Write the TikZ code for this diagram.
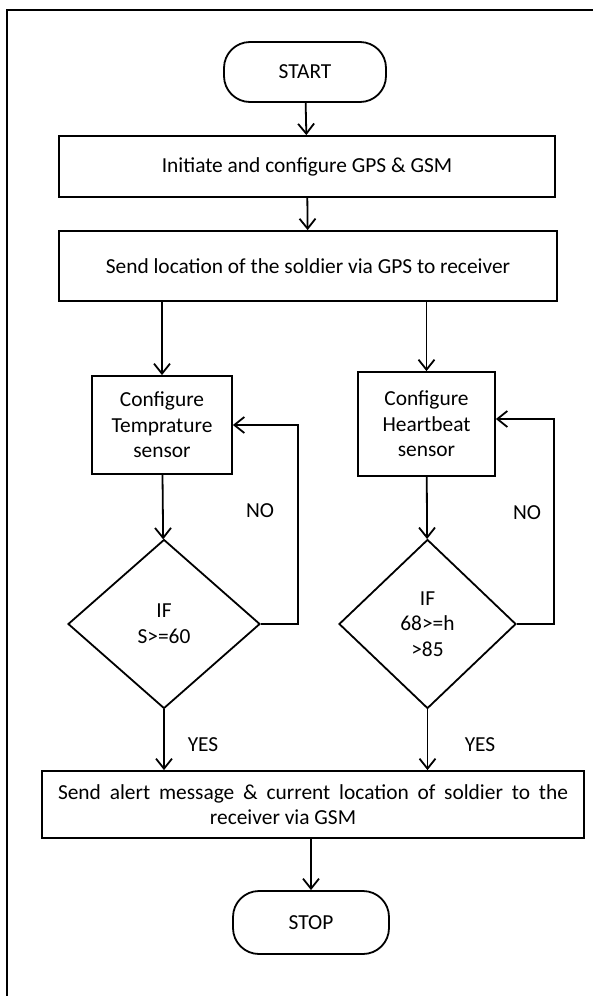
\documentclass[tikz,border=0pt]{standalone}
\usepackage{fontspec}
\setmainfont{Carlito}
\usetikzlibrary{shapes.geometric,arrows.meta}

\begin{document}
\begin{tikzpicture}[x=0.5pt, y=-0.5pt,
    every node/.style = {font=\fontsize{10.7}{12.8}\selectfont},
    terminal/.style = {rectangle, rounded corners=13pt, draw = black, line width=0.9pt, inner sep=0pt},
    process/.style = {rectangle, draw = black, line width=0.9pt, inner sep=0pt, align=center},
    decision/.style = {diamond, draw = black, line width=0.9pt, inner sep=0pt, align=center},
    flow/.style = {line width=0.9pt, -{Straight Barb[length=5pt,width=8pt]}}]

    \useasboundingbox (0,0) rectangle (593,996);

    \coordinate (fbot) at (7,996);
    \coordinate (fcorner) at (7,10);
    \coordinate (fright) at (593,10);
    \draw[line width=1.1pt] (fbot) -- (fcorner) -- (fright);


    \node[terminal,
    minimum width = 81pt,
    minimum height = 30pt] (start) at (305,72) {START};

    \node[process,
    minimum width = 248pt,
    minimum height = 30.5pt] (init) at (307,166.5) {Initiate and configure GPS \& GSM};

    \node[process,
    minimum width = 249pt,
    minimum height = 35pt] (send) at (308,266) {Send location of the soldier via GPS to receiver};

    \node[process,
    minimum width = 70pt,
    minimum height = 49pt] (temp) at (162,425) {Configure\\Temprature\\sensor};

    \node[process,
    minimum width = 68.5pt,
    minimum height = 52pt] (heart) at (426.5,424) {Configure\\Heartbeat\\sensor};

    \node[decision,
    minimum width = 96pt,
    minimum height = 84.5pt] (ifT) at (164,624) {IF\\S>=60};

    \node[decision,
    minimum width = 88.5pt,
    minimum height = 84.5pt] (ifH) at (427.5,624) {IF\\68>=h\\>85};

    \node[process,
    minimum width = 271pt,
    minimum height = 33.5pt] (alert) at (313,804.5)
    {\makebox[255pt][s]{Send alert message \& current location of soldier to the}\\
     \makebox[255pt]{receiver via GSM\hspace*{30pt}}};

    \node[terminal,
    minimum width = 78pt,
    minimum height = 31.5pt] (stop) at (311,922.5) {STOP};


    \node[] (noT) at (260,511) {NO};
    \node[] (noH) at (527,513) {NO};
    \node[] (yesT) at (203,745) {YES};
    \node[] (yesH) at (480,745) {YES};


      \draw[flow] (start) to (init);
      \draw[flow] (init) to (send);
      \draw[flow] (temp |- send.south) to (temp.north);
      \draw[flow] (heart |- send.south) to (heart.north);
      \draw[flow] (temp) to (ifT);
      \draw[flow] (heart) to (ifH);
      \draw[flow] (ifT.east) -- ++(37,0) |- (temp.east);
      \draw[flow] (ifH.east) -- ++(37,0) |- ([yshift=2.5pt]heart.east);
      \draw[flow] (ifT.south) to (ifT.south |- alert.north);
      \draw[flow] (ifH.south) to (ifH.south |- alert.north);
      \draw[flow] (stop |- alert.south) to (stop.north);
  \end{tikzpicture}
\end{document}
